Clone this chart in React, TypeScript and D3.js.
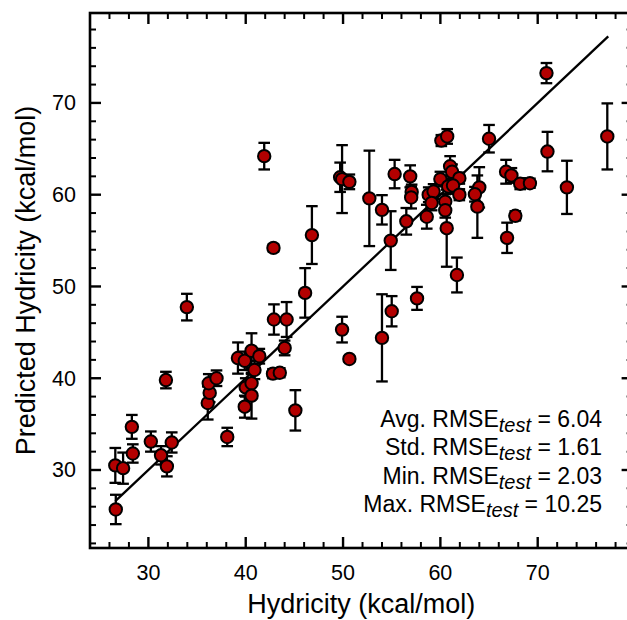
import React, { useEffect, useRef } from 'react';
import * as d3 from 'd3';

// reference hydricity vs model prediction, with spread over test splits
const hydricity = [
  26.6, 27.4, 26.65, 28.3, 28.4, 30.25, 31.3, 31.9, 32.4, 31.8, 33.95, 38.1, 36.1, 36.3, 36.2, 37.0,
  39.2, 39.9, 40.6, 41.4, 40.9, 40.0, 40.6, 40.6, 39.9, 42.8, 43.5, 45.1, 42.9, 44.2, 44.0, 46.1,
  46.8, 42.85, 41.9, 49.9, 50.65, 49.7, 49.9, 50.65, 52.7, 54.0, 55.3, 54.9, 54.0, 55.0, 57.6, 56.5,
  56.9, 57.05, 57.0, 58.6, 58.8, 59.3, 59.1, 60.1, 60.7, 65.0, 60.0, 61.0, 61.2, 61.95, 60.8, 61.3,
  61.95, 60.5, 60.5, 60.65, 61.7, 64.0, 63.55, 63.8, 66.75, 67.3, 67.7, 66.85, 68.2, 69.2, 70.9, 71.0,
  73.0, 77.15,
];
const predicted = [
  30.5, 30.2, 25.7, 34.7, 31.8, 33.1, 31.6, 30.4, 33.0, 39.8, 47.75, 33.6, 37.3, 38.4, 39.45, 40.0,
  42.2, 41.9, 43.0, 42.4, 40.9, 39.0, 39.45, 38.1, 36.9, 40.5, 40.6, 36.5, 46.4, 46.4, 43.3, 49.3,
  55.6, 54.2, 64.2, 45.3, 42.1, 61.9, 61.7, 61.4, 59.6, 58.35, 62.25, 55.0, 44.4, 47.3, 48.7, 57.1,
  62.0, 60.3, 59.7, 57.6, 60.0, 60.35, 59.1, 65.9, 66.35, 66.1, 61.7, 63.1, 62.5, 61.8, 60.9, 61.0,
  60.0, 59.25, 58.3, 56.35, 51.25, 60.8, 60.05, 58.7, 62.5, 62.1, 57.7, 55.3, 61.2, 61.25, 73.25, 64.7,
  60.8, 66.35,
];
const spread = [
  1.9, 1.7, 1.6, 1.3, 1.0, 1.1, 1.0, 1.1, 1.1, 0.9, 1.45, 1.0, 1.8, 1.0, 1.0, 0.85,
  1.7, 1.0, 1.9, 0.8, 1.0, 1.0, 1.0, 2.5, 1.2, 0.5, 0.5, 2.2, 1.65, 1.9, 0.8, 2.7,
  3.15, 0.4, 1.45, 1.4, 0.3, 1.6, 3.7, 0.8, 5.2, 1.6, 1.55, 3.2, 4.75, 1.65, 1.25, 1.45,
  1.2, 0.8, 1.2, 1.3, 0.8, 0.8, 0.8, 0.6, 0.8, 1.5, 0.8, 1.1, 0.8, 0.6, 0.8, 0.8,
  0.6, 0.8, 0.8, 4.2, 1.9, 2.2, 0.8, 3.4, 1.3, 0.8, 0.5, 1.65, 0.6, 0.5, 1.1, 2.15,
  2.9, 3.6,
];

const xTicks = [30, 40, 50, 60, 70];
const yTicks = [30, 40, 50, 60, 70];
const statNames = ['Avg.', 'Std.', 'Min.', 'Max.'];
const statValues = ['6.04', '1.61', '2.03', '10.25'];

const W = 627;
const H = 620;
const FONT = '"Liberation Sans", Arial, Helvetica, sans-serif';

export default function App() {
  const svgRef = useRef<SVGSVGElement>(null);

  useEffect(() => {
    document.body.style.margin = '0';
    const svg = d3.select(svgRef.current);
    svg.selectAll('*').remove();

    const left = 90, right = 632.6, top = 13, bottom = 548;
    const x = d3.scaleLinear().domain([24, 79.75]).range([left, right]);
    const y = d3.scaleLinear().domain([21.5, 79.8]).range([bottom, top]);

    svg.append('rect').attr('width', W).attr('height', H).attr('fill', 'white');

    // y = x reference line
    const [lo, hi] = d3.extent(hydricity) as [number, number];
    svg.append('line')
      .attr('x1', x(lo)).attr('y1', y(lo))
      .attr('x2', x(hi + 0.1)).attr('y2', y(hi + 0.1))
      .attr('stroke', 'black').attr('stroke-width', 2.3);

    const pts = hydricity.map((h, i) => ({ h, p: predicted[i], e: spread[i] }));

    // error bars
    const bars = svg.append('g').attr('stroke', 'black').attr('stroke-width', 2.3);
    pts.forEach(d => {
      const y1 = y(d.p + d.e), y2 = y(d.p - d.e), cx = x(d.h);
      bars.append('line').attr('x1', cx).attr('x2', cx).attr('y1', y1).attr('y2', y2);
      [y1, y2].forEach(yy => {
        bars.append('line').attr('x1', cx - 5.8).attr('x2', cx + 5.8).attr('y1', yy).attr('y2', yy);
      });
    });

    // markers
    svg.append('g').selectAll('circle')
      .data(pts)
      .enter()
      .append('circle')
      .attr('cx', d => x(d.h))
      .attr('cy', d => y(d.p))
      .attr('r', 6.2)
      .attr('fill', '#b30000')
      .attr('stroke', 'black')
      .attr('stroke-width', 2);

    // frame + inward ticks on all sides
    const frame = svg.append('g').attr('stroke', 'black');
    frame.append('rect')
      .attr('x', left).attr('y', top)
      .attr('width', right - left).attr('height', bottom - top)
      .attr('fill', 'none').attr('stroke-width', 2.6);

    const xMinor = d3.range(24, 80, 2);
    const yMinor = d3.range(22, 80, 2);
    xMinor.forEach(v => {
      const len = v % 10 === 0 ? 11 : 6;
      const sw = v % 10 === 0 ? 2.4 : 2;
      frame.append('line').attr('x1', x(v)).attr('x2', x(v)).attr('y1', bottom).attr('y2', bottom - len).attr('stroke-width', sw);
      frame.append('line').attr('x1', x(v)).attr('x2', x(v)).attr('y1', top).attr('y2', top + len).attr('stroke-width', sw);
    });
    yMinor.forEach(v => {
      const len = v % 10 === 0 ? 11 : 6;
      const sw = v % 10 === 0 ? 2.4 : 2;
      frame.append('line').attr('y1', y(v)).attr('y2', y(v)).attr('x1', left).attr('x2', left + len).attr('stroke-width', sw);
      frame.append('line').attr('y1', y(v)).attr('y2', y(v)).attr('x1', right).attr('x2', right - len).attr('stroke-width', sw);
    });

    // tick labels
    svg.append('g').selectAll('text')
      .data(xTicks)
      .enter()
      .append('text')
      .attr('x', d => x(d))
      .attr('y', 580)
      .attr('text-anchor', 'middle')
      .attr('font-family', FONT)
      .attr('font-size', 21.5)
      .text(d => d);

    svg.append('g').selectAll('text')
      .data(yTicks)
      .enter()
      .append('text')
      .attr('x', 76)
      .attr('y', d => y(d) + 7.5)
      .attr('text-anchor', 'end')
      .attr('font-family', FONT)
      .attr('font-size', 21.5)
      .text(d => d);

    // axis titles
    svg.append('text')
      .attr('x', (left + right) / 2)
      .attr('y', 613)
      .attr('text-anchor', 'middle')
      .attr('font-family', FONT)
      .attr('font-size', 27)
      .text('Hydricity (kcal/mol)');

    svg.append('text')
      .attr('transform', `translate(35,${(top + bottom) / 2}) rotate(-90)`)
      .attr('text-anchor', 'middle')
      .attr('font-family', FONT)
      .attr('font-size', 27)
      .text('Predicted Hydricity (kcal/mol)');

    // stats box
    statNames.forEach((name, i) => {
      const t = svg.append('text')
        .attr('x', 602)
        .attr('y', 427 + i * 28.3)
        .attr('text-anchor', 'end')
        .attr('font-family', FONT)
        .attr('font-size', 23);
      t.append('tspan').text(`${name} RMSE`);
      t.append('tspan').attr('dy', 5).attr('font-style', 'italic').attr('font-size', 20).text('test');
      t.append('tspan').attr('dy', -5).text(` = ${statValues[i]}`);
    });
  }, []);

  return (
    <div>
      <svg ref={svgRef} width={W} height={H} style={{ display: 'block' }}></svg>
    </div>
  );
}
